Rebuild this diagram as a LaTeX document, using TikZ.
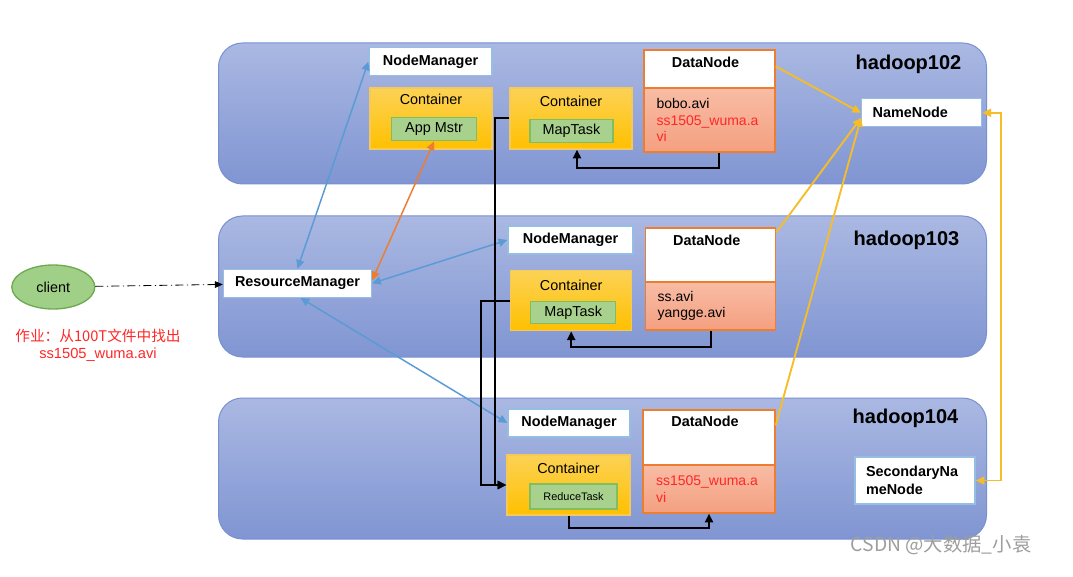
\documentclass[tikz,border=0pt]{standalone}
\usepackage{fontspec}
\setmainfont{Liberation Sans}
\newfontfamily\cjk{Noto Sans CJK SC}
\usepackage{tikz}
\usetikzlibrary{arrows.meta, positioning, calc, shapes.geometric}

\definecolor{hostTop}{RGB}{170,184,226}
\definecolor{hostBot}{RGB}{128,149,210}
\definecolor{hostLine}{RGB}{120,146,208}
\definecolor{boxLine}{RGB}{150,190,228}
\definecolor{ctrTop}{RGB}{252,210,85}
\definecolor{ctrBot}{RGB}{255,192,0}
\definecolor{ctrLine}{RGB}{244,200,90}
\definecolor{taskFill}{RGB}{169,209,142}
\definecolor{taskLine}{RGB}{130,190,95}
\definecolor{dnLine}{RGB}{237,125,49}
\definecolor{dnTop}{RGB}{248,188,165}
\definecolor{dnBot}{RGB}{244,160,128}
\definecolor{cliFill}{RGB}{160,207,135}
\definecolor{cliLine}{RGB}{110,170,80}
\definecolor{rpcBlue}{RGB}{91,155,213}
\definecolor{rpcOrange}{RGB}{237,125,49}
\definecolor{hbYellow}{RGB}{245,190,40}
\definecolor{fileRed}{RGB}{255,40,40}

\begin{document}
\begin{tikzpicture}[x=0.75pt, y=-0.75pt, >={Triangle[length=6.5pt,width=6pt]}]

% ---- Styles ------------------------------------------------------------------
\tikzset{
  sz/.style 2 args={minimum width=#1*0.75pt, minimum height=#2*0.75pt},
  lbl/.style={font=\fontsize{10.8}{13}\selectfont\bfseries},
  txt/.style={font=\fontsize{10.8}{13}\selectfont},
  host/.style={draw=hostLine, line width=0.75pt, top color=hostTop,
               bottom color=hostBot, rounded corners=18pt, inner sep=0pt},
  hostname/.style={font=\fontsize{15}{18}\selectfont\bfseries, anchor=east},
  wbox/.style={lbl, draw=boxLine, fill=white, line width=1pt, inner sep=0pt},
  ctr/.style={draw=ctrLine, line width=1pt, top color=ctrTop,
              bottom color=ctrBot, inner sep=0pt},
  task/.style={txt, draw=taskLine, line width=1pt, fill=taskFill, inner sep=0pt},
  dnbox/.style={draw=dnLine, line width=1pt, fill=white, inner sep=0pt},
  dnfile/.style={draw=dnLine, line width=1pt, top color=dnTop, bottom color=dnBot,
                 font=\fontsize{10.5}{12.4}\selectfont, text width=79.5pt,
                 inner xsep=9pt, inner ysep=0pt, align=left},
  nnbox/.style={wbox, text width=73.5pt, inner xsep=8.25pt, align=left,
                font=\fontsize{10.8}{13.5}\selectfont\bfseries},
  cli/.style={ellipse, txt, draw=cliLine, fill=cliFill, line width=1pt, inner sep=0pt},
  jobtxt/.style={text=fileRed, align=center, font=\fontsize{11}{13}\selectfont},
  wm/.style={text=black!38, font=\cjk\fontsize{14.5}{16}\selectfont},
  barr/.style={rpcBlue, line width=1.1pt, <->},
  oarr/.style={rpcOrange, line width=1.1pt, <->},
  yarr/.style={hbYellow, line width=1.4pt, ->},
  blk/.style={black, line width=1.5pt, ->},
  ccall/.style={line width=0.6pt, dash pattern=on 6pt off 2.5pt on 1pt off 2.5pt,
                -{Triangle[length=6pt,width=5pt]}},
}

\path[use as bounding box, fill=white] (0,0) rectangle (1073,577);

% ---- Hosts -------------------------------------------------------------------
\node[host, sz={768}{141}] (h102) at (602.5,113.5) {};
\node[host, sz={768}{141}] (h103) at (602.5,286.5) {};
\node[host, sz={768}{141}] (h104) at (602.5,468.5) {};
\node[hostname] (h102n) at ($(h102.north east)+(-21,22)$) {hadoop102};
\node[hostname] (h103n) at ($(h103.north east)+(-23,25)$) {hadoop103};
\node[hostname] (h104n) at ($(h104.north east)+(-24,21)$) {hadoop104};

% ---- hadoop102 ---------------------------------------------------------------
\node[wbox, sz={123}{28}] (nm102) at (430.5,61.7) {NodeManager};
\node[ctr, sz={122}{61}] (c102a) at (431,118.5) {};
\node[txt] (c102at) at ($(c102a.north)+(0,12)$) {Container};
\node[task, sz={85}{23}] (am102) at (434,129.3) {App Mstr};
\node[ctr, sz={122}{61}] (c102b) at (571,118.5) {};
\node[txt] (c102bt) at ($(c102b.north)+(0,14)$) {Container};
\node[task, sz={83}{23}] (mt102) at (571.5,130.7) {MapTask};
\node[dnbox, sz={131}{102}] (dn102) at (709.5,101) {};
\node[lbl] (dn102t) at ($(dn102.north)+(-4,13)$) {DataNode};
\node[dnfile, sz={131}{64}, anchor=south] (dn102f) at (dn102.south)
  {bobo.avi\\\textcolor{fileRed}{ss1505\_wuma.a}\\\textcolor{fileRed}{vi}};
\node[nnbox, sz={120}{28}] (nn) at (921.7,112.8) {NameNode};

% ---- hadoop103 ---------------------------------------------------------------
\node[wbox, sz={125}{28}] (nm103) at (570.5,240) {NodeManager};
\node[wbox, sz={148}{28}] (rm) at (297.5,283.3) {ResourceManager};
\node[ctr, sz={121}{60}] (c103) at (571.2,300.7) {};
\node[txt] (c103t) at ($(c103.north)+(0,15)$) {Container};
\node[task, sz={85}{22}] (mt103) at (573.2,312.8) {MapTask};
\node[dnbox, sz={130}{102}] (dn103) at (710.7,279) {};
\node[lbl] (dn103t) at ($(dn103.north)+(-4,13)$) {DataNode};
\node[dnfile, sz={130}{48}, anchor=south] (dn103f) at (dn103.south)
  {ss.avi\\yangge.avi};

% ---- hadoop104 ---------------------------------------------------------------
\node[wbox, sz={122}{28}] (nm104) at (569,423) {NodeManager};
\node[ctr, sz={123}{60}] (c104) at (568.5,485) {};
\node[txt] (c104t) at ($(c104.north)+(0,14)$) {Container};
\node[task, font=\fontsize{8.2}{10}\selectfont, sz={87}{25}] (rt104) at (573.5,496.5) {ReduceTask};
\node[dnbox, sz={132}{103}] (dn104) at (709,461.5) {};
\node[lbl] (dn104t) at ($(dn104.north)+(-4,12)$) {DataNode};
\node[dnfile, sz={132}{48}, anchor=south] (dn104f) at (dn104.south)
  {\textcolor{fileRed}{ss1505\_wuma.a}\\\textcolor{fileRed}{vi}};
\node[nnbox, sz={120}{47}] (snn) at (915,480.5) {SecondaryNa\\meNode};

% ---- Client ------------------------------------------------------------------
\node[cli, sz={83}{44}] (client) at (53.3,287) {client};
\node[jobtxt] (job) at (98,345.5) {{\cjk 作业：从100T文件中找出}\\ss1505\_wuma.avi};
\node[wm] (wm) at (941,545) {CSDN @大数据\_小袁};

% ---- RPC links ---------------------------------------------------------------
\draw[ccall] (client) -- (rm);
\draw[barr] (rm.north) -- (nm102.west);
\draw[oarr] ($(rm.east)+(0,-3)$) -- (am102.south);
\draw[barr] (rm.east) -- (nm103.west);
\draw[barr] ($(rm.south)+(3,0)$) -- (nm104.west);

% ---- Task data flow ----------------------------------------------------------
\draw[blk] ($(dn102.south)+(9,0)$) -- ++(0,15) -| ($(c102b.south)+(6,0)$);
\draw[blk] (dn103.south) -- ++(0,16) -| (c103.south);
\draw[blk] (c104.south) -- ++(0,12) -| (dn104.south);
\draw[blk] (c102b.west) -- ++(-14,0) |- (c104.west);
\draw[blk] (c103.west) -- ++(-29,0) |- (c104.west);

% ---- HDFS heartbeats ---------------------------------------------------------
\draw[yarr] ($(dn102.north east)+(0,17)$) -- (nn.west);
\draw[yarr] ($(dn103.north east)+(0,5)$) -- ($(nn.west)+(0,5)$);
\draw[yarr] ($(dn104.north east)+(0,16)$) -- ($(nn.west)+(0,5)$);
\draw[yarr, <->] (snn.east) -- ++(25,0) |- (nn.east);

\end{tikzpicture}
\end{document}
